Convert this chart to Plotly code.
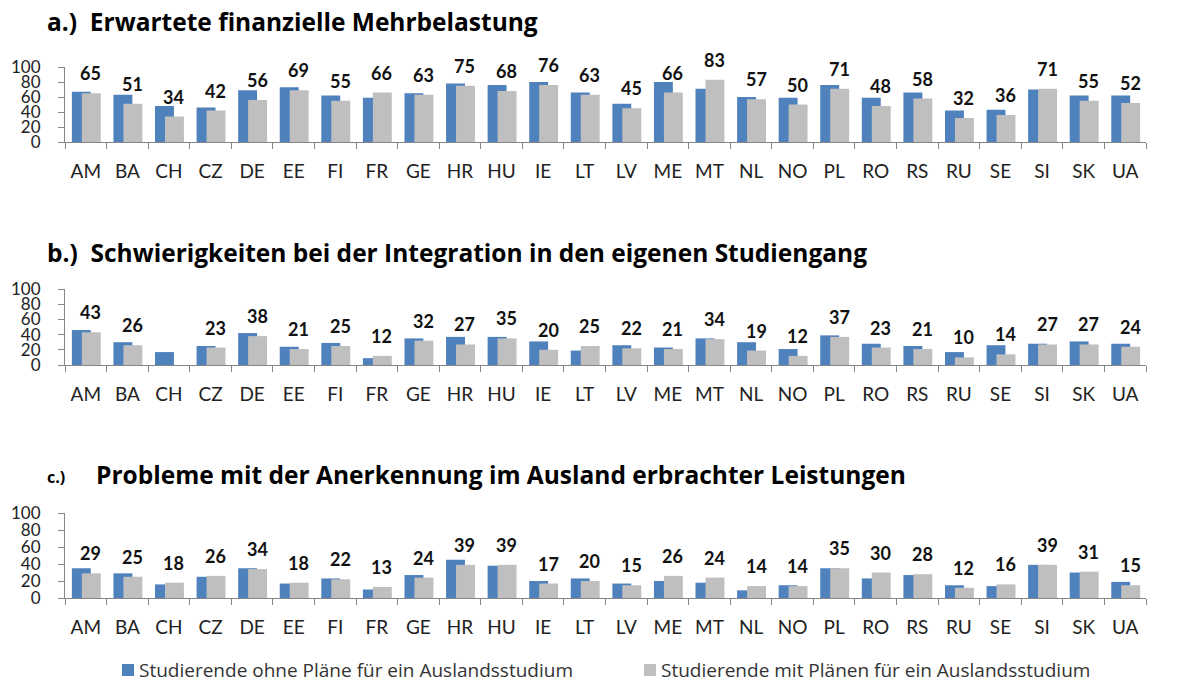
import plotly.graph_objects as go

W, H = 1187, 682


def fx(px):
    return px / W


def fy(py):
    return 1 - py / H


categories = ["AM", "BA", "CH", "CZ", "DE", "EE", "FI", "FR", "GE", "HR", "HU", "IE", "LT",
              "LV", "ME", "MT", "NL", "NO", "PL", "RO", "RS", "RU", "SE", "SI", "SK", "UA"]

# a.) Erwartete finanzielle Mehrbelastung
a_ohne = [67, 63, 48, 46, 69, 73, 62, 59, 65, 78, 76, 80, 66,
          51, 80, 71, 60, 59, 76, 59, 66, 42, 43, 70, 62, 62]
a_mit = [65, 51, 34, 42, 56, 69, 55, 66, 63, 75, 68, 76, 63,
         45, 66, 83, 57, 50, 71, 48, 58, 32, 36, 71, 55, 52]

# b.) Schwierigkeiten bei der Integration in den eigenen Studiengang
b_ohne = [46, 30, 17, 25, 42, 24, 29, 9, 35, 37, 37, 31, 19,
          26, 23, 35, 30, 21, 39, 28, 25, 17, 26, 28, 31, 28]
b_mit = [43, 26, None, 23, 38, 21, 25, 12, 32, 27, 35, 20, 25,
         22, 21, 34, 19, 12, 37, 23, 21, 10, 14, 27, 27, 24]

# c.) Probleme mit der Anerkennung im Ausland erbrachter Leistungen
c_ohne = [35, 29, 16, 25, 35, 17, 23, 10, 27, 45, 38, 20, 23,
          17, 20, 18, 9, 15, 35, 23, 27, 15, 14, 39, 30, 19]
c_mit = [29, 25, 18, 26, 34, 18, 22, 13, 24, 39, 39, 17, 20,
         15, 26, 24, 14, 14, 35, 30, 28, 12, 16, 39, 31, 15]

series_names = ["Studierende ohne Pläne für ein Auslandsstudium",
                "Studierende mit Plänen für ein Auslandsstudium"]
y_ticks = [0, 20, 40, 60, 80, 100]

BLUE = "#4F81BD"
GRAY = "#BFBFBF"
AXIS = "#868686"
FONT = "Lato"
TFONT = "Open Sans"

panels = [
    (a_ohne, a_mit, 142, 67),
    (b_ohne, b_mit, 365, 289),
    (c_ohne, c_mit, 598, 513),
]

fig = go.Figure()
x0, x1 = 65, 1146

for k, (ohne, mit, base_px, top_px) in enumerate(panels, start=1):
    xa = "x" if k == 1 else f"x{k}"
    ya = "y" if k == 1 else f"y{k}"
    fig.add_trace(go.Bar(x=categories, y=ohne, name=series_names[0], marker_color=BLUE,
                         marker_line_width=0, offset=-0.335, width=0.455,
                         xaxis=xa, yaxis=ya, showlegend=False))
    fig.add_trace(go.Bar(x=categories, y=mit, name=series_names[1], marker_color=GRAY,
                         marker_line_width=0, offset=-0.095, width=0.455,
                         xaxis=xa, yaxis=ya, showlegend=False))
    for c, v in zip(categories, mit):
        if v is None:
            continue
        fig.add_annotation(x=c, y=v, xref=xa, yref=ya, text=f"<b>{v}</b>", showarrow=False,
                           yshift=20, xshift=5, font=dict(family=FONT, size=18, color="#111111"))
    xkey = "xaxis" if k == 1 else f"xaxis{k}"
    ykey = "yaxis" if k == 1 else f"yaxis{k}"
    fig.update_layout({
        xkey: dict(domain=[fx(x0), fx(x1)], anchor=ya, type="category",
                   showline=True, linecolor=AXIS, linewidth=1,
                   ticks="outside", tickson="boundaries", ticklen=6, tickcolor=AXIS,
                   ticklabelstandoff=12, showgrid=False, zeroline=False, automargin=False,
                   tickfont=dict(family=FONT, size=19, color="#222222")),
        ykey: dict(domain=[fy(base_px), fy(top_px)], anchor=xa, range=[0, 100],
                   tickvals=y_ticks, showline=True, linecolor=AXIS, linewidth=1,
                   ticks="outside", ticklen=6, tickcolor=AXIS, ticklabelstandoff=14,
                   showgrid=False, zeroline=False, automargin=False,
                   tickfont=dict(family=FONT, size=17, color="#222222")),
    })

title_font = dict(family=TFONT, size=24.5, color="#000000")
fig.add_annotation(x=fx(45), y=fy(22), xref="paper", yref="paper", xanchor="left",
                   yanchor="middle", showarrow=False,
                   text="<b>a.)  Erwartete finanzielle Mehrbelastung</b>", font=title_font)
fig.add_annotation(x=fx(45), y=fy(252), xref="paper", yref="paper", xanchor="left",
                   yanchor="middle", showarrow=False,
                   text="<b>b.)  Schwierigkeiten bei der Integration in den eigenen Studiengang</b>",
                   font=title_font)
fig.add_annotation(x=fx(45), y=fy(477), xref="paper", yref="paper", xanchor="left",
                   yanchor="middle", showarrow=False, text="<b>c.)</b>",
                   font=dict(family=TFONT, size=16, color="#000000"))
fig.add_annotation(x=fx(94), y=fy(474), xref="paper", yref="paper", xanchor="left",
                   yanchor="middle", showarrow=False,
                   text="<b>Probleme mit der Anerkennung im Ausland erbrachter Leistungen</b>",
                   font=title_font)

# Legend (drawn as key squares + text)
legend_items = [(122, BLUE, series_names[0]), (644, GRAY, series_names[1])]
for lx, col, name in legend_items:
    fig.add_shape(type="rect", xref="paper", yref="paper",
                  x0=fx(lx), x1=fx(lx + 12), y0=fy(676), y1=fy(664),
                  fillcolor=col, line_width=0)
    fig.add_annotation(x=fx(lx + 15), y=fy(670), xref="paper", yref="paper", xanchor="left",
                       yanchor="middle", showarrow=False, text=name,
                       font=dict(family=TFONT, size=19, color="#333333"))

fig.update_layout(
    template="none",
    width=W, height=H,
    margin=dict(l=0, r=0, t=0, b=0, pad=0),
    paper_bgcolor="white", plot_bgcolor="white",
    barmode="overlay",
    showlegend=False,
    font=dict(family=FONT),
)

fig.write_html("out.html",
               config={"displayModeBar": False},
               post_script="document.body.style.margin='0px';document.body.style.overflow='hidden';")
